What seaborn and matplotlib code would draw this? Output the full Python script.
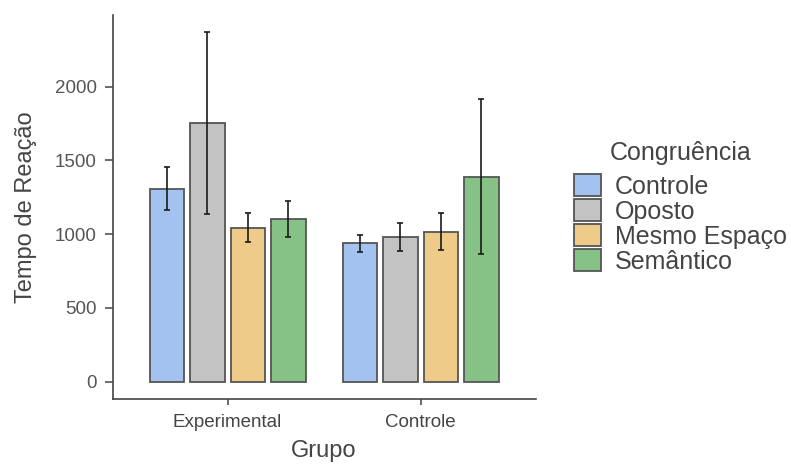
import matplotlib
matplotlib.use("Agg")
import matplotlib.pyplot as plt
import seaborn as sns
import pandas as pd

# Mean reaction time per group and congruence condition, with CI bounds
grupos = ["Experimental", "Controle"]
congruencia = ["Controle", "Oposto", "Mesmo Espaço", "Semântico"]
media_experimental = [1308, 1754, 1044, 1103]
media_controle = [938, 979, 1015, 1388]
inferior_experimental = [1164, 1135, 947, 979]
superior_experimental = [1453, 2373, 1144, 1225]
inferior_controle = [881, 888, 893, 864]
superior_controle = [995, 1074, 1142, 1915]

cores = ["#a3c2ef", "#c3c3c3", "#efcb89", "#86c286"]

rows = []
for g, medias, lo, hi in [
    ("Experimental", media_experimental, inferior_experimental, superior_experimental),
    ("Controle", media_controle, inferior_controle, superior_controle),
]:
    for c, m, l, h in zip(congruencia, medias, lo, hi):
        rows.append({"Grupo": g, "Congruência": c, "Tempo": m, "lo": l, "hi": h})
df = pd.DataFrame(rows)

sns.set_theme(style="ticks")
plt.rcParams["font.family"] = ["Liberation Sans", "DejaVu Sans"]

W, H = 791, 465
fig = plt.figure(figsize=(W / 100, H / 100), dpi=100)
ax_l, ax_r, ax_b, ax_t = 112.7, 536.0, 399.3, 15.0
ax = fig.add_axes([ax_l / W, 1 - ax_b / H, (ax_r - ax_l) / W, (ax_b - ax_t) / H])

sns.barplot(
    data=df, x="Grupo", y="Tempo", hue="Congruência",
    order=grupos, hue_order=congruencia, palette=cores, saturation=1,
    errorbar=None, width=0.84, gap=0.15,
    edgecolor="#555555", linewidth=1.3, ax=ax,
)

# Confidence interval whiskers at the centre of each bar
for cont, cond in zip(ax.containers, congruencia):
    sub = df[df["Congruência"] == cond].set_index("Grupo").loc[grupos]
    for bar, (_, r) in zip(cont, sub.iterrows()):
        xc = bar.get_x() + bar.get_width() / 2
        ax.errorbar(
            xc, r["Tempo"],
            yerr=[[r["Tempo"] - r["lo"]], [r["hi"] - r["Tempo"]]],
            fmt="none", ecolor="#1a1a1a", elinewidth=1.2,
            capsize=2.2, capthick=1.2, zorder=5,
        )

ax.set_xlim(-0.595, 1.598)
ax.set_ylim(-119, 2486)
ax.set_yticks([0, 500, 1000, 1500, 2000])

for side in ["top", "right"]:
    ax.spines[side].set_visible(False)
for side in ["left", "bottom"]:
    ax.spines[side].set_color("#444444")
    ax.spines[side].set_linewidth(1.2)

ax.tick_params(axis="y", labelsize=13.5, labelcolor="#555555", color="#444444",
               length=5.5, width=1.1, pad=6)
ax.tick_params(axis="x", labelsize=13.5, labelcolor="#444444", color="#444444",
               length=4.5, width=1.1, pad=6)

ax.set_xlabel("Grupo", fontsize=17, color="#444444")
ax.set_ylabel("Tempo de Reação", fontsize=17, color="#444444")
ax.xaxis.set_label_coords(0.499, -0.106)
ax.yaxis.set_label_coords(-0.178, 0.5)

handles, labels = ax.get_legend_handles_labels()
ax.legend_.remove()
leg = fig.legend(
    handles, labels,
    loc="upper left", bbox_to_anchor=(574 / W, 1 - 174 / H),
    frameon=False, fontsize=18,
    handlelength=1.08, handleheight=0.97, labelspacing=0.02,
    handletextpad=0.56, borderpad=0, borderaxespad=0,
)
for t in leg.get_texts():
    t.set_color("#444444")

# Legend heading, centred above the key column
fig.text(681 / W, 1 - 153 / H, "Congruência", fontsize=18, color="#444444",
         ha="center", va="center")

fig.savefig("out.png", dpi=100)
